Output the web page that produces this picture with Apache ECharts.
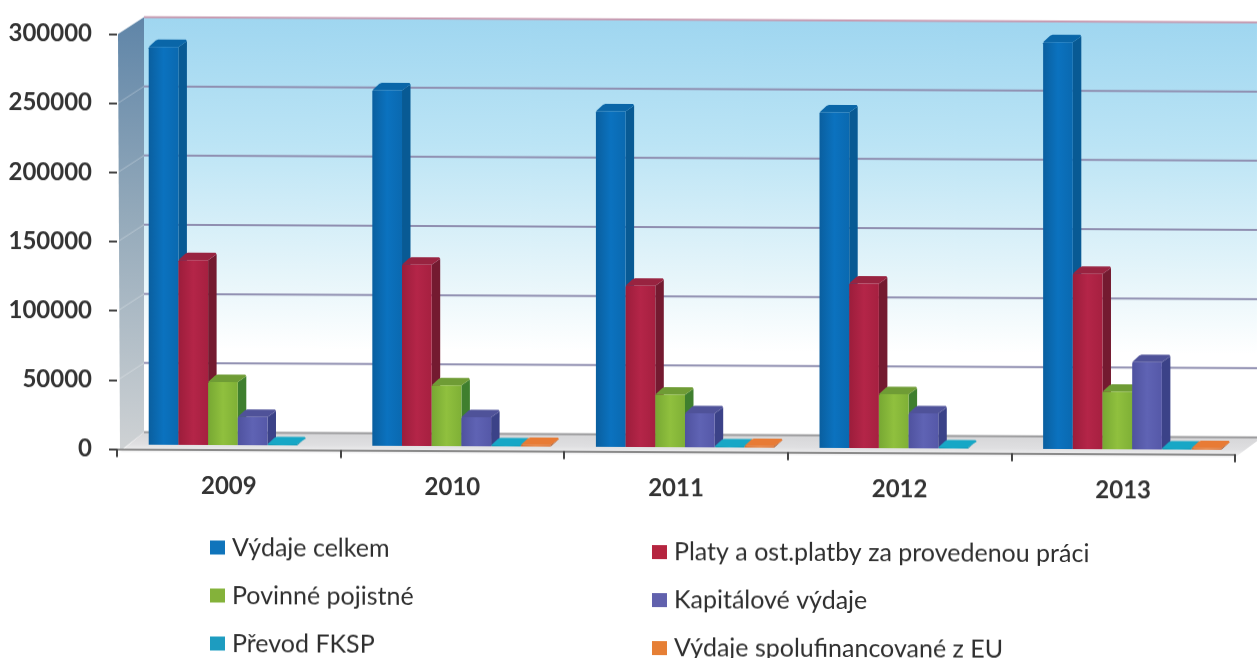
<!DOCTYPE html>
<html><head><meta charset="utf-8">
<style>html,body{margin:0;padding:0;background:#fff;overflow:hidden}
#c{width:1257px;height:658px;transform-origin:0 0;transform:skewY(0.27deg)}</style>
<script src="https://cdn.jsdelivr.net/npm/echarts@6/dist/echarts.min.js"></script>
</head><body><div id="c"></div>
<script>
const years = ['2009','2010','2011','2012','2013'];
const vydajeCelkem = [287500,257000,242500,242500,294000];
const platy = [133500,131000,116500,119000,126700];
const pojistne = [45500,44000,38000,39000,41500];
const kapitalove = [20500,21000,24500,25300,63000];
const fksp = [700,800,800,700,800];
const eu = [0,1000,1000,0,1000];
const yTicks = [0,50000,100000,150000,200000,250000,300000];
const seriesNames = ['Výdaje celkem','Platy a ost.platby za provedenou práci','Povinné pojistné','Kapitálové výdaje','Převod FKSP','Výdaje spolufinancované z EU'];

const looks = [
 {front:['#0a5f9f','#0b72bf','#0a69b0'],side:'#085a94',top:'#0a66a8',legend:'#0f74bb'},
 {front:['#9c1d3b','#b42548','#a62040'],side:'#741a30',top:'#982340',legend:'#b5243f'},
 {front:['#77a833','#90c03e','#7fb036'],side:'#3f7f2e',top:'#6f9c35',legend:'#84b23a'},
 {front:['#4f529f','#5f63b4','#5558a8'],side:'#3b4288',top:'#4f5299',legend:'#6161ad'},
 {front:['#0f93ad','#18a9c8','#1299b6'],side:'#0f7d95',top:'#17a7c6',legend:'#1d9cc0'},
 {front:['#d76a28','#ea7f38','#dd7030'],side:'#a94f1c',top:'#e87b35',legend:'#e67f35'}
];
const wallDx=27, wallDy=-17, baseShift=-4.5, barDx=8.5, barDy=-7.5, groupShift=9, barFrac=0.1328;

function renderBar(idx){
 return function(params,api){
  const v=api.value(1); if(!v) return null;
  const look=looks[idx];
  const catW=api.size([1,0])[0], w=catW*barFrac;
  const c=api.coord([api.value(0),v]), b=api.coord([api.value(0),0]);
  const x=c[0]+(idx-3)*w+groupShift, yT=c[1]+baseShift, yB=b[1]+baseShift;
  const grad={type:'linear',x:0,y:0,x2:1,y2:0,colorStops:[{offset:0,color:look.front[0]},{offset:.5,color:look.front[1]},{offset:1,color:look.front[2]}]};
  return {type:'group',children:[
   {type:'polygon',shape:{points:[[x+w,yT],[x+w+barDx,yT+barDy+1.5],[x+w+barDx,yB+barDy],[x+w,yB]]},style:{fill:look.side}},
   {type:'polygon',shape:{points:[[x,yT],[x+barDx-1.5,yT+barDy+1],[x+barDx+1,yT+barDy],[x+w+barDx-1,yT+barDy],[x+w+barDx,yT+barDy+1.5],[x+w,yT]]},style:{fill:look.top}},
   {type:'polygon',shape:{points:[[x,yT+1],[x+1,yT],[x+w,yT],[x+w,yB],[x,yB]]},style:{fill:grad}}
  ]};
 };
}
function renderWalls(params,api){
 const cs=params.coordSys, L=cs.x, R=cs.x+cs.width;
 const y0=api.coord([0,0])[1], yM=api.coord([0,300000])[1];
 const kids=[];
 kids.push({type:'polygon',shape:{points:[[L+wallDx,yM+wallDy],[R+wallDx,yM+wallDy],[R+wallDx,y0+wallDy],[L+wallDx,y0+wallDy]]},
  style:{fill:{type:'linear',x:0,y:0,x2:0,y2:1,colorStops:[{offset:0,color:'#9fd6f0'},{offset:.3,color:'#bbe4f5'},{offset:.62,color:'#e6f5fa'},{offset:.8,color:'#ffffff'},{offset:1,color:'#ffffff'}]}}});
 kids.push({type:'polygon',shape:{points:[[L+1,yM],[L+wallDx,yM+wallDy],[L+wallDx,y0+wallDy],[L+3,y0+2]]},
  style:{fill:{type:'linear',x:0,y:0,x2:0,y2:1,colorStops:[{offset:0,color:'#5f85a8'},{offset:.45,color:'#93a9ba'},{offset:1,color:'#cfd2d4'}]}}});
 kids.push({type:'polygon',shape:{points:[[L+3,y0+3],[R,y0+3],[R+wallDx,y0+wallDy],[L+wallDx,y0+wallDy]]},
  style:{fill:{type:'linear',x:0,y:0,x2:0,y2:1,colorStops:[{offset:0,color:'#d6d6d8'},{offset:.6,color:'#dfdfe1'},{offset:1,color:'#f2f2f3'}]}}});
 yTicks.forEach(function(t){
  const y=api.coord([0,t])[1];
  const top=t===300000;
  kids.push({type:'line',shape:{x1:L+wallDx,y1:y+wallDy,x2:R+wallDx,y2:y+wallDy},
   style:{stroke:top?'#c79ab0':(t===0?'#9a9a9c':'#8f8eb0'),lineWidth:2}});
  if(t>0&&!top) kids.push({type:'line',shape:{x1:L+1,y1:y,x2:L+wallDx,y2:y+wallDy},style:{stroke:'rgba(255,255,255,.3)',lineWidth:1}});
 });
 return {type:'group',children:kids};
}
const allData=[vydajeCelkem,platy,pojistne,kapitalove,fksp,eu];
const series=[{type:'custom',name:'wall',silent:true,z:1,renderItem:renderWalls,data:[[0,0]],encode:{x:0,y:1},clip:false}];
allData.forEach(function(arr,i){
 series.push({type:'custom',name:seriesNames[i],z:2+i,renderItem:renderBar(i),clip:false,
  encode:{x:0,y:1},itemStyle:{color:looks[i].legend},
  data:arr.map(function(v,k){return [k,v];})});
});
const legendText={color:'#2f2f2f',fontFamily:'Lato',fontSize:25,padding:[0,0,0,2]};
const chart=echarts.init(document.getElementById('c'),null,{renderer:'canvas'});
chart.setOption({
 animation:false,backgroundColor:'#fff',
 grid:{left:117,top:33.5,width:1118,height:415},
 xAxis:{type:'category',data:years,offset:3,boundaryGap:true,z:20,
  axisLine:{show:true,lineStyle:{color:'#8a8a8a',width:2}},
  axisTick:{show:true,length:8,lineStyle:{color:'#444',width:2}},
  axisLabel:{margin:22,color:'#333',fontFamily:'Lato',fontWeight:'bold',fontSize:24}},
 yAxis:{type:'value',min:0,max:300000,interval:50000,z:20,
  axisLine:{show:false},axisTick:{show:true,length:8,lineStyle:{color:'#444',width:2}},
  splitLine:{show:false},
  axisLabel:{margin:25,color:'#333',fontFamily:'Lato',fontWeight:'bold',fontSize:24,formatter:function(v){return String(v);}}},
 legend:[
  {orient:'vertical',left:210,top:534,padding:0,itemWidth:15,itemHeight:14,itemGap:23,icon:'rect',selectedMode:false,
   data:[seriesNames[0],seriesNames[2],seriesNames[4]],textStyle:legendText},
  {orient:'vertical',left:652,top:536.5,padding:0,itemWidth:15,itemHeight:14,itemGap:23,icon:'rect',selectedMode:false,
   data:[seriesNames[1],seriesNames[3],seriesNames[5]],textStyle:legendText}
 ],
 series:series
});
</script></body></html>
